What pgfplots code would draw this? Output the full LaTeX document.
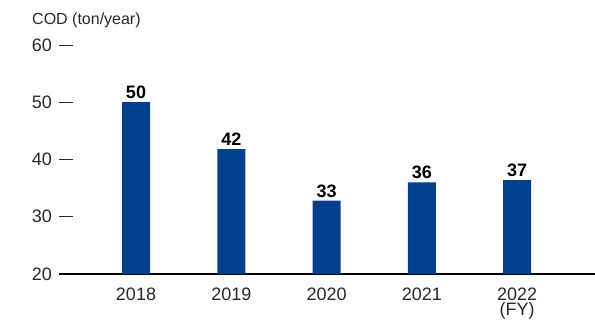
\documentclass[border=0pt]{standalone}
\usepackage{fontspec}
\setmainfont{Liberation Sans}
\usepackage{pgfplots}
\pgfplotsset{compat=1.18}
\definecolor{barblue}{RGB}{2,63,140}
\definecolor{txtgray}{RGB}{40,40,40}
\begin{document}
\begin{tikzpicture}[x=1pt,y=1pt]
\useasboundingbox (0,0) rectangle (595,320);
\node[anchor=base west, inner sep=0pt, text=txtgray, font=\fontsize{16}{18}\selectfont] at (32,295) {COD (ton/year)};
\begin{axis}[
  at={(59pt,46pt)}, anchor=south west,
  scale only axis, width=536pt, height=229pt,
  xmin=-0.808, xmax=4.816, ymin=20, ymax=60,
  axis lines=left,
  axis line style={-},
  y axis line style={draw=none},
  x axis line style={black, line width=2pt},
  ytick={20,30,40,50,60},
  ytick align=inside,
  major tick length=14pt,
  ytick style={txtgray, line width=0.9pt},
  xtick=data,
  xtick style={draw=none},
  xticklabels={2018,2019,2020,2021,{2022\\[-4pt](FY)}},
  /pgf/number format/assume math mode=true,
  tick label style={text=txtgray, font=\fontsize{18}{19}\selectfont, inner sep=0pt},
  yticklabel style={anchor=east, xshift=-7pt},
  xticklabel style={anchor=north, yshift=0pt, align=center},
  ybar, bar width=28pt,
  nodes near coords,
  point meta=explicit symbolic,
  every node near coord/.append style={font=\bfseries\fontsize{18}{19}\selectfont, text=black, inner sep=0pt, anchor=south, yshift=3pt},
  clip=false,
]
\addplot[fill=barblue, draw=none] coordinates {(0,50) [50] (1,41.8) [42] (2,32.8) [33] (3,36.0) [36] (4,36.4) [37]};
\end{axis}
\end{tikzpicture}
\end{document}
